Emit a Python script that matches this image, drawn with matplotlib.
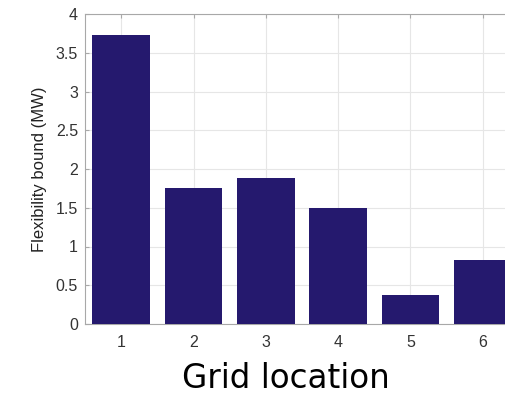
import matplotlib
matplotlib.use("Agg")
import matplotlib.pyplot as plt

locations = [1, 2, 3, 4, 5, 6]
flex_bound = [3.73, 1.76, 1.89, 1.50, 0.38, 0.83]
y_ticks = [0, 0.5, 1, 1.5, 2, 2.5, 3, 3.5, 4]
y_tick_labels = ["0", "0.5", "1", "1.5", "2", "2.5", "3", "3.5", "4"]

bar_color = "#25196e"
edge_gray = "#a8a8a8"
text_gray = "#333333"

fig = plt.figure(figsize=(5.05, 3.97), dpi=100)
ax = fig.add_axes([85 / 505, 73 / 397, 434 / 505, 310 / 397])

ax.bar(locations, flex_bound, width=0.8, color=bar_color, zorder=3)

ax.set_xlim(0.5, 6.5)
ax.set_ylim(0, 4)
ax.set_xticks(locations)
ax.set_yticks(y_ticks)
ax.set_yticklabels(y_tick_labels)

ax.grid(True, color="#e6e6e6", linewidth=0.8, zorder=0)
ax.set_axisbelow(True)
for side in ["top", "bottom", "left", "right"]:
    ax.spines[side].set_color(edge_gray)
    ax.spines[side].set_linewidth(0.8)

ax.tick_params(axis="x", pad=8)
ax.tick_params(axis="y", pad=5)
ax.tick_params(axis="both", direction="in", length=3, color=edge_gray,
               labelsize=11.5, labelcolor=text_gray, top=True, right=True)
for lbl in ax.get_xticklabels() + ax.get_yticklabels():
    lbl.set_family(["Liberation Sans", "DejaVu Sans"])

ax.set_ylabel("Flexibility bound (MW)", fontsize=12, color="#222222",
              family=["Liberation Sans", "DejaVu Sans"], labelpad=6)

fig.text(286 / 505, 1 - 378 / 397, "Grid location", fontsize=23.5,
         family="DejaVu Sans", color="black", ha="center", va="center")

fig.savefig("out.png", dpi=100)
